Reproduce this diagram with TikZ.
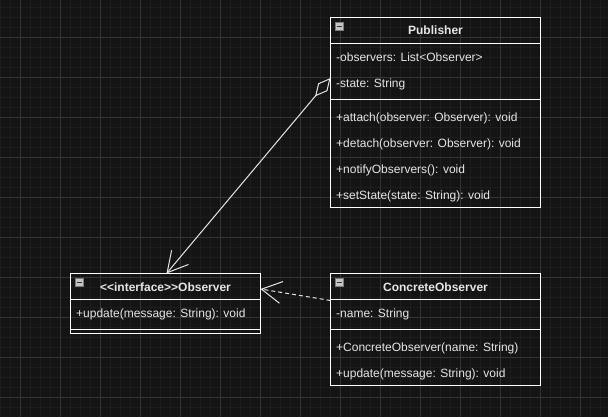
\documentclass[tikz,border=0pt]{standalone}
\usepackage{fontspec}
\setmainfont{Liberation Sans}
\usetikzlibrary{arrows.meta}
\definecolor{bg}{HTML}{141414}
\definecolor{gridminor}{HTML}{1D1D1D}
\definecolor{gridmajor}{HTML}{343434}
\definecolor{fg}{HTML}{E6E6E6}
\definecolor{iconfill}{HTML}{C4C4C4}
\definecolor{iconline}{HTML}{7A7A7A}
\definecolor{icondash}{HTML}{333333}
\tikzset{
  classbox/.style={draw=white, line width=1pt, anchor=north west, inner sep=0pt, outer sep=0pt},
  divider/.style={draw=white, line width=1pt},
  txt/.style={anchor=base west, inner sep=0pt, text=fg, font=\fontsize{12}{14}\selectfont},
  hdr/.style={anchor=base, inner sep=0pt, text=fg, font=\bfseries\fontsize{12}{14}\selectfont},
  minusicon/.style={draw=iconline, fill=iconfill, line width=0.8pt, minimum size=8.5pt, inner sep=0pt,
    path picture={\draw[icondash, line width=1.3pt]
      ([xshift=-2.6pt]path picture bounding box.center) -- ([xshift=2.6pt]path picture bounding box.center);}},
  conn/.style={draw=fg, line width=1pt},
  dashconn/.style={conn, dash pattern=on 4pt off 3pt},
}
\begin{document}
\begin{tikzpicture}[x=1pt,y=-1pt]
\fill[bg] (0,0) rectangle (608,417);
\useasboundingbox (0,0) rectangle (608,417);
% grid
\foreach \x in {0,10,...,600} \draw[gridminor, line width=1pt] ({\x+0.5},0) -- ({\x+0.5},417);
\foreach \y in {7,17,...,417} \draw[gridminor, line width=1pt] (0,{\y+0.5}) -- (608,{\y+0.5});
\foreach \x in {20,60,...,580} \draw[gridmajor, line width=1pt] ({\x+0.5},0) -- ({\x+0.5},417);
\foreach \y in {37,77,...,397} \draw[gridmajor, line width=1pt] (0,{\y+0.5}) -- (608,{\y+0.5});

% Publisher
\node[classbox, minimum width=210pt, minimum height=190pt] (pub) at (330.5,17.5) {};
\draw[divider] (pub.west |- 0,43.5) -- (pub.east |- 0,43.5);
\draw[divider] (pub.west |- 0,99.5) -- (pub.east |- 0,99.5);
\node[minusicon] (pubicon) at (339.5,26.5) {};
\node[hdr] (pubhdr) at (435.5,35) {Publisher};
\node[txt] (pa1) at (336,61.5) {-observers: List<Observer>};
\node[txt] (pa2) at (336,87.5) {-state: String};
\node[txt] (pm1) at (336,121.5) {+attach(observer: Observer): void};
\node[txt] (pm2) at (336,147.5) {+detach(observer: Observer): void};
\node[txt] (pm3) at (336,173.5) {+notifyObservers(): void};
\node[txt] (pm4) at (336,199.5) {+setState(state: String): void};

% Observer
\node[classbox, minimum width=190pt, minimum height=60pt] (obs) at (70.5,273.5) {};
\draw[divider] (obs.west |- 0,299.5) -- (obs.east |- 0,299.5);
\draw[divider] (obs.west |- 0,329.5) -- (obs.east |- 0,329.5);
\node[minusicon] (obsicon) at (79.5,282.5) {};
\node[hdr] (obshdr) at (165.5,291) {{<}{<}interface{>}{>}Observer};
\node[txt] (om1) at (76,317.5) {+update(message: String): void};

% ConcreteObserver
\node[classbox, minimum width=210pt, minimum height=112pt] (con) at (330.5,273.5) {};
\draw[divider] (con.west |- 0,299.5) -- (con.east |- 0,299.5);
\draw[divider] (con.west |- 0,329.5) -- (con.east |- 0,329.5);
\node[minusicon] (conicon) at (339.5,282.5) {};
\node[hdr] (conhdr) at (435.5,291) {ConcreteObserver};
\node[txt] (ca1) at (336,317.5) {-name: String};
\node[txt] (cm1) at (336,351.5) {+ConcreteObserver(name: String)};
\node[txt] (cm2) at (336,377.5) {+update(message: String): void};

% connectors
\coordinate (aggA) at ([yshift=-60.5pt]pub.north west);
\coordinate (aggB) at ([xshift=96pt]obs.north west);
\draw[conn, {Diamond[open,length=24pt,width=12pt]}-{Straight Barb[length=20pt,width=22pt]}] (aggA) -- (aggB);
\coordinate (realA) at ([yshift=-27pt]con.north west);
\coordinate (realB) at ([yshift=-15.5pt]obs.north east);
\draw[dashconn, -{Straight Barb[length=20pt,width=22pt]}] (realA) -- (realB);
\end{tikzpicture}
\end{document}
